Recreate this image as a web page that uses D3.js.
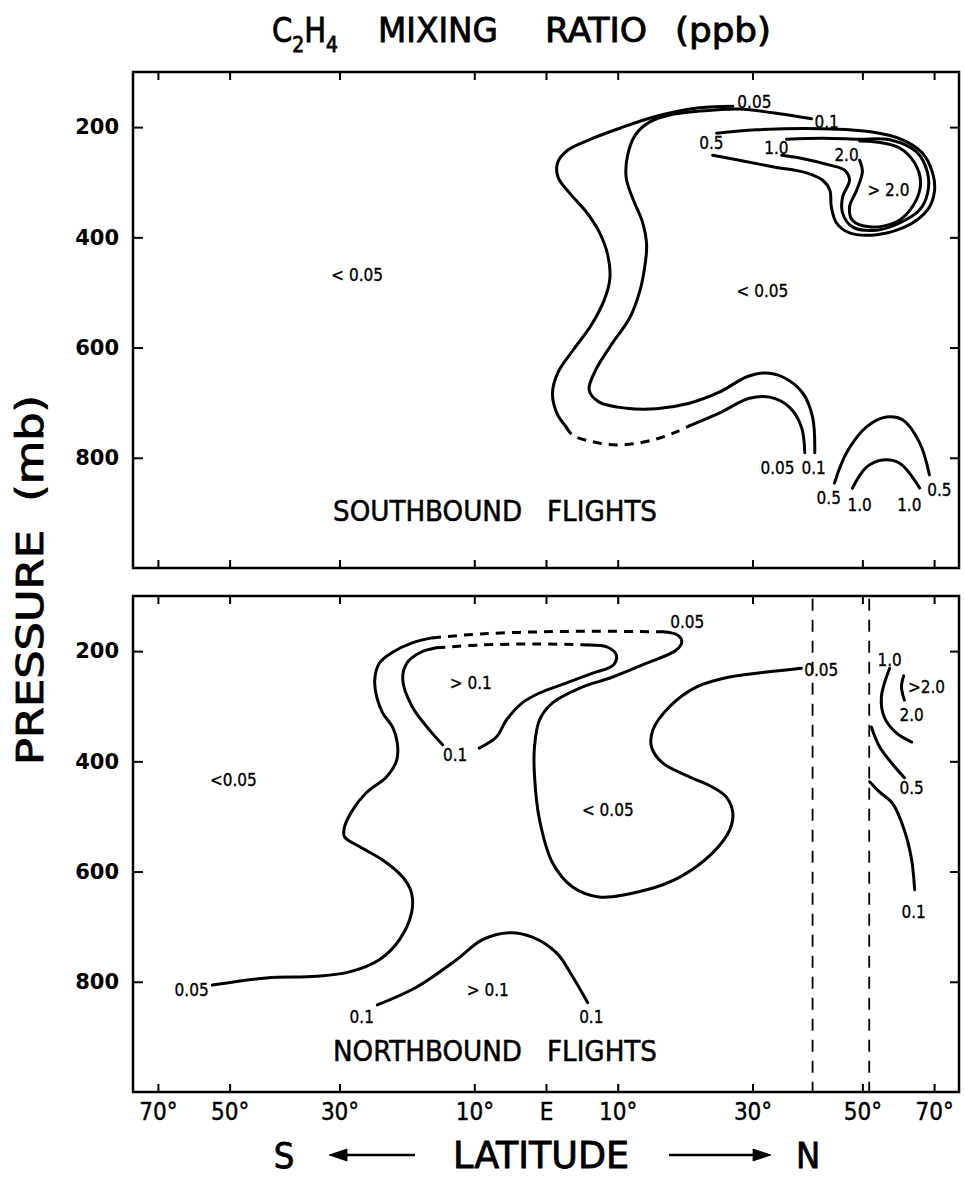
<!DOCTYPE html>
<html>
<head>
<meta charset="utf-8">
<style>
  body { margin: 0; background: #fff; }
  svg { display: block; }
  text { font-family: "DejaVu Sans Condensed", "Liberation Sans Narrow", "DejaVu Sans", sans-serif; fill: #000; }
</style>
<title>C2H4 mixing ratio</title>
</head>
<body>
<script src="https://cdn.jsdelivr.net/npm/d3@7"></script>
<script>

// Axis ticks
var latTicks = [-70, -50, -30, -10, 0, 10, 30, 50, 70];
var pressureTicks = [200, 400, 600, 800];

// Southbound flights: contour lines as [latitude, pressure mb]
var south005 = [[26.9,162],[21.8,165],[15.0,182],[10.3,202],[6.0,223],[3.0,242],[1.6,265],[1.7,292],[3.5,323],[5.6,354],[7.4,390],[8.6,432],[8.9,474],[8.1,514],[6.3,559],[3.8,604],[1.7,644],[0.9,682],[1.5,719],[2.8,744]];
var south005dash = [[2.8,744],[3.7,759],[6.5,771],[9.8,777],[13.1,773],[16.0,764],[18.4,753],[20.3,742]];
var south005b = [[20.3,742],[24.8,719],[29.5,692],[32.8,690],[36.1,708],[38.2,744],[38.8,791]];
var south01 = [[40.0,185],[33.3,174],[27.9,167],[21.8,171],[17.4,178],[14.5,191],[12.5,214],[11.4,251],[11.2,292],[12.2,332],[13.5,372],[14.1,414],[13.8,456],[13.1,499],[11.7,546],[9.1,595],[6.9,641],[6.0,677],[7.4,699],[11.2,710],[15.5,711],[20.3,701],[24.8,681],[29.1,653],[32.0,646],[34.9,653],[38.4,682],[40.2,726],[40.6,791]];
var south05 = [[24.4,211],[30.6,205],[42.0,203],[52.2,209],[59.7,223],[65.7,247],[69.4,283],[70.2,314],[68.2,345],[63.8,369],[58.1,387],[52.2,396],[47.3,392],[44.7,374],[43.7,345],[43.4,314],[42.0,296],[39.1,283],[33.3,272],[27.9,260],[23.8,251]];
var south10 = [[35.6,222],[42.0,220],[49.4,222],[56.3,223],[63.8,245],[67.5,283],[67.5,320],[64.8,350],[58.9,374],[53.2,387],[47.9,381],[45.9,356],[45.9,327],[47.3,296],[46.3,278],[43.4,269],[37.9,256],[34.8,251]];
var south20 = [[49.4,260],[50.0,281],[48.8,314],[47.3,345],[47.9,369],[51.6,381],[58.1,372],[62.9,341],[65.1,301],[63.2,265],[58.9,238],[53.2,227],[49.4,225]];
var south05hump = [[44.3,846],[46.7,791],[50.9,744],[55.5,726],[59.7,731],[64.8,773],[68.2,831]];
var south10hump = [[47.9,855],[50.9,817],[54.6,804],[58.9,810],[64.8,855]];
var southLabels = [
  [30.3,154,"0.05"], [42.8,191,"0.1"], [23.6,229,"0.5"], [33.9,238,"1.0"], [46.7,251,"2.0"], [56.0,314,"> 2.0"],
  [-27.2,468,"< 0.05"], [31.6,497,"< 0.05"],
  [34.1,819,"0.05"], [40.4,819,"0.1"], [43.2,873,"0.5"], [49.4,886,"1.0"], [61.6,886,"1.0"], [72.3,858,"0.5"]
];

// Northbound flights
var north005a = [[-53.9,806],[-42.6,793],[-33.8,790],[-28.4,782],[-23.8,760],[-20.8,724],[-19.0,675],[-19.0,639],[-20.3,610],[-23.3,579],[-26.8,555],[-29.2,537],[-29.2,519],[-27.9,488],[-25.8,457],[-22.7,428],[-21.2,398],[-21.1,367],[-21.8,338],[-23.3,312],[-24.2,283],[-24.5,252],[-23.8,222],[-21.8,202],[-18.9,185],[-16.0,176]];
var north005dash = [[-16.0,176],[-9.3,169],[-0.9,165],[7.4,164],[16.4,165]];
var north005b = [[16.4,165],[18.6,171],[19.2,183],[18.4,198],[14.1,222],[9.3,247],[4.7,267],[0.9,294],[-0.9,325],[-1.6,374],[-1.6,425],[-0.9,506],[0.9,584],[3.7,628],[7.4,646],[14.1,633],[18.9,610],[23.8,566],[26.4,525],[26.9,494],[25.9,465],[23.8,447],[20.3,428],[16.4,403],[14.8,374],[15.0,343],[17.4,301],[21.4,265],[26.4,247],[32.3,238],[38.2,231]];
var north01a = [[-14.5,370],[-16.4,343],[-18.9,301],[-20.3,252],[-19.7,222],[-17.8,203],[-15.4,194]];
var north01dash = [[-15.4,194],[-9.3,189],[-0.9,187],[6.0,189]];
var north01b = [[6.0,189],[8.6,193],[9.8,207],[9.4,225],[6.5,240],[2.8,258],[-0.9,276],[-3.3,294],[-5.5,325],[-6.9,356],[-9.3,376]];
var north01hump = [[-24.1,842],[-18.3,810],[-12.5,760],[-8.9,724],[-5.1,711],[-1.9,719],[1.5,748],[3.7,791],[5.8,838]];
var north10 = [[56.3,231],[54.3,283],[55.0,320],[58.1,349],[62.3,365]];
var north20 = [[60.0,245],[59.4,265],[60.2,289]];
var north05 = [[52.0,338],[53.9,374],[56.8,403],[60.2,430]];
var north01r = [[51.6,437],[53.9,456],[57.0,476],[60.2,525],[62.3,579],[63.2,633]];
var flightLimits = [40.2, 51.5];
var northLabels = [
  [20.0,147,"0.05"], [41.8,234,"0.05"], [-10.5,258,"> 0.1"], [-12.7,389,"0.1"], [-49.2,434,"<0.05"], [8.6,488,"< 0.05"],
  [-59.1,815,"0.05"], [-26.5,864,"0.1"], [-8.1,815,"> 0.1"], [6.3,864,"0.1"],
  [56.3,216,"1.0"], [67.1,265,">2.0"], [62.3,316,"2.0"], [62.3,448,"0.5"], [62.9,673,"0.1"]
];

var width = 965, height = 1177;
var left = 133, right = 959;

// latitude axis is linear in sine of latitude
var sinScale = d3.scaleLinear().domain([-1, 1]).range([left, right]);
var grid = d3.range(-90, 90.01, 0.5);
var x = d3.scaleLinear().domain(grid).range(grid.map(l => sinScale(Math.sin(l * Math.PI / 180))));

var svg = d3.select("body").append("svg")
    .attr("width", width)
    .attr("height", height);

function drawPanel(top, lines, labels, name, last) {
  var y = d3.scaleLinear().domain([100, 1000]).range([top, top + 496]);
  var g = svg.append("g");

  var line = d3.line()
      .x(d => x(d[0]))
      .y(d => y(d[1]))
      .curve(d3.curveCatmullRom.alpha(0.5));

  g.selectAll(".contour")
    .data(lines)
    .enter().append("path")
      .attr("class", "contour")
      .attr("d", d => line(d.pts))
      .attr("fill", "none")
      .attr("stroke", "#000")
      .attr("stroke-width", 3)
      .attr("stroke-linecap", d => d.dash ? "butt" : "round")
      .attr("stroke-dasharray", d => d.dash ? "9 7" : null);

  g.selectAll(".clabel")
    .data(labels)
    .enter().append("text")
      .attr("class", "clabel")
      .attr("x", d => x(d[0]))
      .attr("y", d => y(d[1]))
      .attr("dy", "0.36em")
      .attr("text-anchor", "middle")
      .style("font-size", "17px")
      .attr("stroke", "#000").attr("stroke-width", 0.3)
      .text(d => d[2]);

  // axes, ticks pointing inwards
  var ax = g.append("g").attr("transform", `translate(${left},0)`)
      .call(d3.axisLeft(y).tickValues(pressureTicks).tickSizeInner(-10).tickSizeOuter(0).tickPadding(14));
  ax.selectAll("text")
      .style("font-family", "'DejaVu Sans', sans-serif")
      .style("font-weight", "bold")
      .style("font-size", "21px");
  g.append("g").attr("transform", `translate(${right},0)`)
      .call(d3.axisRight(y).tickValues(pressureTicks).tickSizeInner(-9).tickSizeOuter(0).tickFormat(""));
  g.append("g").attr("transform", `translate(0,${top})`)
      .call(d3.axisTop(x).tickValues(latTicks).tickSizeInner(-8).tickSizeOuter(0).tickFormat(""));
  var bx = g.append("g").attr("transform", `translate(0,${top + 496})`)
      .call(d3.axisBottom(x).tickValues(latTicks).tickSizeInner(-8).tickSizeOuter(0).tickPadding(11)
        .tickFormat(d => last ? (d === 0 ? "E" : Math.abs(d) + "°") : ""));
  bx.selectAll("text").style("font-size", "24px").attr("stroke", "#000").attr("stroke-width", 0.4);

  g.selectAll(".domain").remove();
  g.selectAll(".tick line").attr("stroke-width", 2);
  g.selectAll(".tick text").attr("fill", "#000");

  g.append("rect")
      .attr("x", left).attr("y", top)
      .attr("width", right - left).attr("height", 496)
      .attr("fill", "none").attr("stroke", "#000").attr("stroke-width", 2.5);

  g.append("text")
      .attr("x", 333).attr("y", top + 449 + (last ? 16 : 0))
      .attr("textLength", 324).attr("lengthAdjust", "spacingAndGlyphs")
      .style("font-size", "29px")
      .style("white-space", "pre")
      .attr("stroke", "#000").attr("stroke-width", 0.5)
      .text(name);

  return {g: g, y: y};
}

var southLines = [
  {pts: south005}, {pts: south005dash, dash: true}, {pts: south005b},
  {pts: south01}, {pts: south05}, {pts: south10}, {pts: south20},
  {pts: south05hump}, {pts: south10hump}
];
var northLines = [
  {pts: north005a}, {pts: north005dash, dash: true}, {pts: north005b},
  {pts: north01a}, {pts: north01dash, dash: true}, {pts: north01b},
  {pts: north01hump}, {pts: north10}, {pts: north20}, {pts: north05}, {pts: north01r}
];

drawPanel(72, southLines, southLabels, "SOUTHBOUND   FLIGHTS", false);
var north = drawPanel(596, northLines, northLabels, "NORTHBOUND   FLIGHTS", true);

// flight limits in the northbound panel
north.g.selectAll(".limit")
  .data(flightLimits)
  .enter().append("line")
    .attr("class", "limit")
    .attr("x1", d => x(d)).attr("x2", d => x(d))
    .attr("y1", north.y(105)).attr("y2", north.y(1000))
    .attr("stroke", "#000").attr("stroke-width", 1.8)
    .attr("stroke-dasharray", "12 9");

// title
var title = svg.append("g").attr("stroke", "#000").attr("stroke-width", 0.8);
var formula = title.append("text").attr("x", 272).attr("y", 42).style("font-size", "34px")
    .attr("textLength", 66).attr("lengthAdjust", "spacingAndGlyphs");
formula.append("tspan").text("C");
formula.append("tspan").attr("dy", 10).style("font-size", "22px").text("2");
formula.append("tspan").attr("dy", -10).text("H");
formula.append("tspan").attr("dy", 10).style("font-size", "22px").text("4");
title.append("text").attr("x", 378).attr("y", 42).style("font-size", "34px")
    .attr("textLength", 120).attr("lengthAdjust", "spacingAndGlyphs").text("MIXING");
title.append("text").attr("x", 545).attr("y", 42).style("font-size", "34px")
    .attr("textLength", 102).attr("lengthAdjust", "spacingAndGlyphs").text("RATIO");
title.append("text").attr("x", 675).attr("y", 42).style("font-size", "34px")
    .attr("textLength", 96).attr("lengthAdjust", "spacingAndGlyphs").text("(ppb)");

// y axis title
svg.append("text")
    .attr("transform", "translate(43,580) rotate(-90)")
    .attr("text-anchor", "middle")
    .style("font-size", "37px")
    .style("white-space", "pre")
    .attr("textLength", 370).attr("lengthAdjust", "spacingAndGlyphs")
    .attr("stroke", "#000").attr("stroke-width", 0.8)
    .text("PRESSURE  (mb)");

// x axis title with arrows
var xt = svg.append("g").attr("stroke", "#000").attr("stroke-width", 0.8);
var ty = 1168;
xt.append("text").attr("x", 284).attr("y", ty).attr("text-anchor", "middle").style("font-size", "36px").text("S");
xt.append("text").attr("x", 541).attr("y", ty).attr("text-anchor", "middle").style("font-size", "37px")
    .attr("textLength", 176).attr("lengthAdjust", "spacingAndGlyphs").text("LATITUDE");
xt.append("text").attr("x", 808).attr("y", ty).attr("text-anchor", "middle").style("font-size", "36px").text("N");
var ay = ty - 13;
xt.append("line").attr("x1", 340).attr("x2", 415).attr("y1", ay).attr("y2", ay).attr("stroke-width", 2.5);
xt.append("path").attr("d", `M329,${ay} L347,${ay - 6} L347,${ay + 6} Z`).attr("fill", "#000");
xt.append("line").attr("x1", 669).attr("x2", 760).attr("y1", ay).attr("y2", ay).attr("stroke-width", 2.5);
xt.append("path").attr("d", `M771,${ay} L753,${ay - 6} L753,${ay + 6} Z`).attr("fill", "#000");

</script>
</body>
</html>
